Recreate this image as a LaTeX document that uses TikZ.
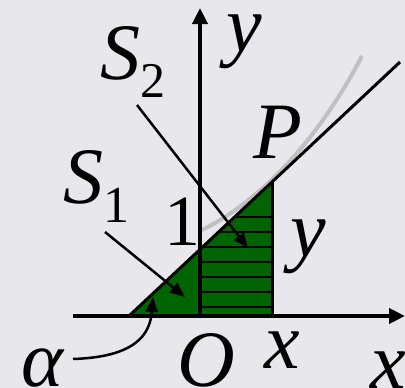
\documentclass[tikz,border=0pt]{standalone}
\usepackage{fontspec}
\setmainfont{Liberation Serif}
\usetikzlibrary{arrows.meta}
\definecolor{bg}{RGB}{232,232,236}
\definecolor{dgreen}{RGB}{0,100,0}
\definecolor{curvegrey}{RGB}{192,192,192}
\begin{document}
\begin{tikzpicture}[x=1pt,y=-1pt,
  lbl/.style={inner sep=0pt,anchor=base,font=\fontsize{80}{80}\selectfont\itshape},
  lblw/.style={inner sep=0pt,anchor=base west,font=\fontsize{80}{80}\selectfont\itshape},
  numlbl/.style={inner sep=0pt,anchor=base,font=\fontsize{72}{72}\selectfont},
  axisline/.style={line width=4pt,-{Triangle[length=16pt,width=15pt]}},
  stripe/.style={line width=2pt},
  pointer/.style={line width=2.5pt,-{Triangle[length=15pt,width=12pt]}}]
\fill[bg] (0,0) rectangle (405,388);
\useasboundingbox (0,0) rectangle (405,388);
% key points
\coordinate (A) at (129,316);
\coordinate (E) at (400,62);
\coordinate (P) at (272,182);
\coordinate (Q) at (272,316);
\coordinate (C0) at (200,231);
\coordinate (C1) at (362,56);
\coordinate (xl) at (73,316);
\coordinate (xr) at (405,316);
\coordinate (yb) at (200,318);
\coordinate (yt) at (200,8);
% green region
\fill[dgreen] (A) -- (P) -- (Q) -- cycle;
\begin{scope}
  \clip (A) -- (P) -- (Q) -- cycle;
  \foreach \k in {0,...,6}
    \draw[stripe] (200,216.7+15*\k) -- (272,216.7+15*\k);
\end{scope}
\draw[line width=3pt] (P) -- (Q);
% curve and tangent line
\draw[curvegrey,line width=4pt] (C0) .. controls (250,207) and (312,152) .. (C1);
\draw[line width=3pt] (A) -- (E);
% axes
\draw[axisline] (xl) -- (xr);
\draw[axisline] (yb) -- (yt);
% labels
\node[lbl] (ytop) at (244,51) {y};
\node[lbl] (Plbl) at (278,158) {P};
\node[lblw] (S2) at (100,79) {S\raisebox{-18pt}{\fontsize{50}{50}\selectfont\upshape 2}};
\node[lblw] (S1) at (63,203) {S\raisebox{-19pt}{\fontsize{52}{52}\selectfont\upshape 1}};
\node[numlbl] (one) at (182,245) {1};
\node[lbl] (yright) at (308,256) {y};
\node[lbl] (alpha) at (42,386) {α};
\node[lbl] (Olbl) at (206,386) {O};
\node[lbl] (xsmall) at (282,368) {x};
\node[lbl] (xright) at (388,388) {x};
% pointers
\coordinate (s2s) at (137,105);
\coordinate (s2e) at (248,248);
\coordinate (s1s) at (105,232);
\coordinate (s1e) at (185,297);
\coordinate (als) at (73,359);
\coordinate (ale) at (153,297);
\draw[pointer] (s2s) -- (s2e);
\draw[pointer] (s1s) -- (s1e);
\draw[pointer] (als) .. controls (135,357) and (150,335) .. (ale);
\end{tikzpicture}
\end{document}
